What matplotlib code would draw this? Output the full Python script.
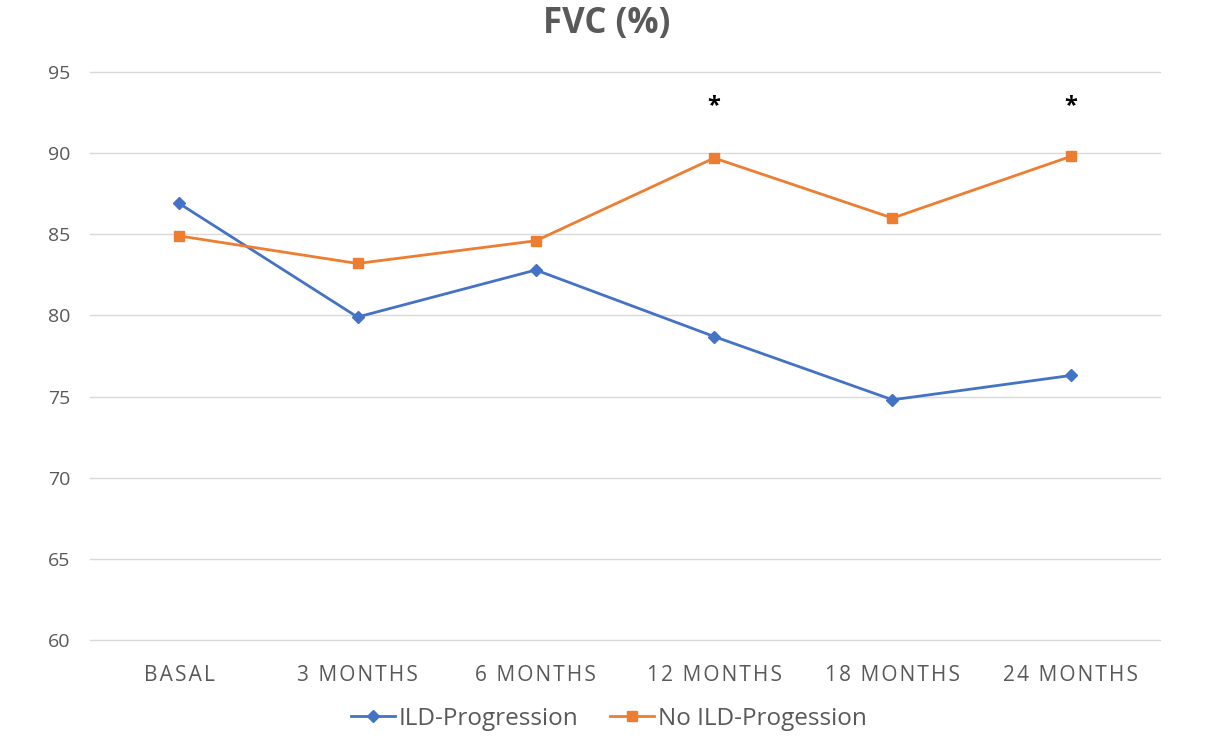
import matplotlib
matplotlib.use("Agg")
import matplotlib.pyplot as plt

categories = ["BASAL", "3 MONTHS", "6 MONTHS", "12 MONTHS", "18 MONTHS", "24 MONTHS"]
ild_progression = [86.9, 79.9, 82.8, 78.7, 74.8, 76.3]
no_ild_progression = [84.9, 83.2, 84.6, 89.7, 86.0, 89.8]
significant = ["12 MONTHS", "24 MONTHS"]
yticks = [60, 65, 70, 75, 80, 85, 90, 95]

plt.rcParams['font.family'] = ['Open Sans', 'DejaVu Sans']
text_color = "#595959"

def tracked(s):
    return "\u200a".join(s)

fig = plt.figure(figsize=(12.14, 7.54), dpi=100)
ax = fig.add_axes([90/1214, 114/754, 1070/1214, 568/754])

x = list(range(len(categories)))
ax.plot(x, ild_progression, color="#4472C4", marker="D", markersize=6, linewidth=2,
        label="ILD-Progression")
ax.plot(x, no_ild_progression, color="#ED7D31", marker="s", markersize=7.5, linewidth=2,
        label="No ILD-Progession")

for cat in significant:
    i = categories.index(cat)
    ax.text(i, 92.9, "*", ha="center", va="center", fontsize=17, fontweight="bold", color="black")

ax.set_xlim(-0.5, len(categories) - 0.5)
ax.set_ylim(60, 95)
ax.set_yticks(yticks)
ax.set_xticks(x)
ax.set_xticklabels([tracked(c) for c in categories], fontsize=15, color=text_color)
ax.tick_params(axis="y", labelsize=14, labelcolor=text_color, length=0, pad=14)
ax.tick_params(axis="x", length=0, pad=18)
ax.grid(axis="y", color="#D9D9D9", linewidth=1)
for gl in ax.get_ygridlines():
    gl.set_clip_on(False)
ax.set_axisbelow(True)
for s in ax.spines.values():
    s.set_visible(False)

fig.text(607/1214, 1 - 24/754, "FVC (%)", ha="center", va="center", fontsize=25,
         fontweight="bold", color=text_color)

leg = fig.legend(loc="center", bbox_to_anchor=(609/1214, 1 - 719/754), ncol=2, frameon=False,
                 fontsize=17.5, handlelength=1.8, columnspacing=1.3, handletextpad=0.15)
for t in leg.get_texts():
    t.set_color(text_color)

fig.savefig("out.png", dpi=100, facecolor="white")
